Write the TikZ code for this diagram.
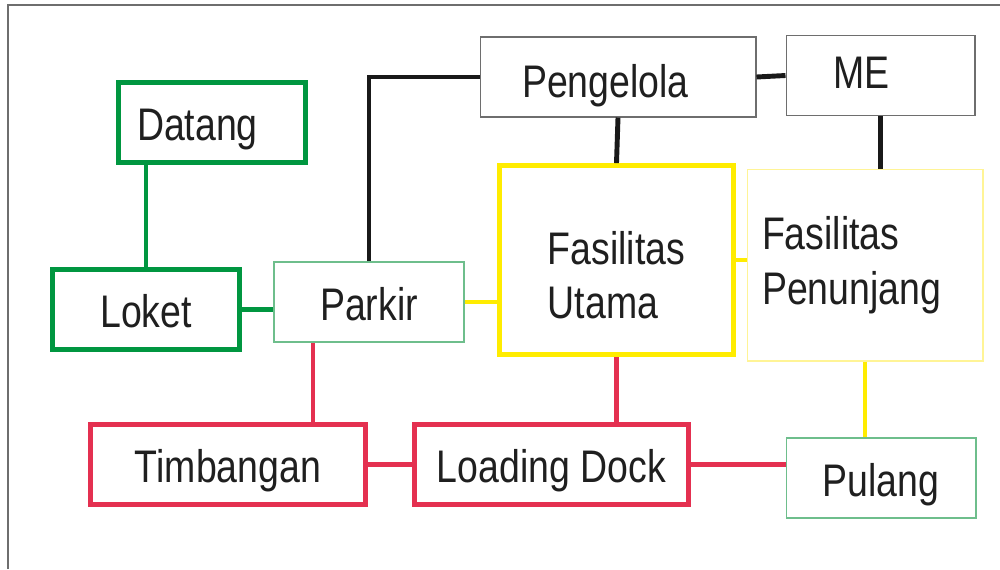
\documentclass[tikz,border=0pt]{standalone}
\usepackage{fontspec}
\setmainfont{Liberation Sans}[FakeStretch=0.82]
\usetikzlibrary{positioning}
\usepackage{xcolor}
\definecolor{flowgreen}{RGB}{0,150,64}
\definecolor{palegreen}{RGB}{110,190,140}
\definecolor{flowred}{RGB}{228,48,80}
\definecolor{flowyellow}{RGB}{255,236,0}
\definecolor{paleyellow}{RGB}{255,244,150}
\definecolor{framegray}{RGB}{110,110,110}

\begin{document}
\begin{tikzpicture}[
    x=0.02cm, y=-0.02cm,
    box/.style={draw, rectangle, inner sep=0pt, align=center, text=black!88,
                font=\fontsize{26pt}{31pt}\selectfont},
    one/.style={text height=0.92cm, text depth=0.2cm},
    gbox/.style={box, one, draw=flowgreen, line width=2.8pt, minimum width=3.74cm, minimum height=1.6cm},
    rbox/.style={box, one, draw=flowred, line width=2.8pt, minimum height=1.6cm},
    tbox/.style={box, draw=palegreen, line width=0.6pt, minimum width=3.8cm, minimum height=1.6cm},
    kbox/.style={box, draw=framegray, line width=0.6pt, minimum height=1.6cm},
    kline/.style={line width=2.8pt, black!90},
    gline/.style={line width=2.8pt, flowgreen},
    rline/.style={line width=2.8pt, flowred},
    yline/.style={line width=2.6pt, flowyellow}
  ]
  \useasboundingbox (0,0) rectangle (1000,569);
  \draw[framegray, line width=0.6pt] (8,569) |- (1000,5);

  \node[gbox, text width=3cm, inner xsep=0.37cm, align=left] (datang) at (212,122.5) {Datang};
  \node[gbox] (loket) at (146,309.5) {Loket};
  \node[tbox, one] (parkir) at (369,302) {Parkir};
  \node[rbox, minimum width=5.5cm] (timbangan) at (228,464.5) {Timbangan};
  \node[rbox, minimum width=5.48cm] (loading) at (551.5,464.5) {Loading Dock};
  \node[tbox, one] (pulang) at (881,478) {Pulang};
  \node[kbox, one, text width=3.84cm, inner xsep=0.84cm, align=left, text height=1cm] (pengelola) at (618,77) {Pengelola};
  \node[kbox, one, text width=1.9cm, inner xsep=0.94cm, align=left, text height=0.7cm] (me) at (880.5,75.5) {ME};
  \node[box, draw=flowyellow, line width=2.8pt, minimum width=4.68cm, minimum height=3.78cm,
        align=left] (futama) at (616.5,260) {\rule{0pt}{1.26cm}Fasilitas\\Utama};
  \node[box, draw=paleyellow, line width=0.6pt, minimum width=4.72cm, minimum height=3.84cm,
        text width=4.12cm, inner xsep=0.3cm, align=left] (fpenunjang) at (865,265) {Fasilitas\\Penunjang};

  \draw[gline] (loket.north) -- (loket.north |- datang.south);
  \draw[gline] (loket) -- (loket -| parkir.west);

  \draw[kline] (parkir.north) |- (pengelola.west);
  \draw[kline] (pengelola.east) -- (me.west);
  \draw[kline] (pengelola.south) -- (futama.north);
  \draw[kline] (me.south) -- (me.south |- fpenunjang.north);

  \draw[yline] (parkir.east) -- (parkir.east -| futama.west);
  \draw[yline] (futama.east) -- (futama.east -| fpenunjang.west);
  \draw[yline] (fpenunjang.south) -- (fpenunjang.south |- pulang.north);

  \draw[rline] ([xshift=-1.12cm]parkir.south) -- ([xshift=-1.12cm]parkir.south |- timbangan.north);
  \draw[rline] (timbangan.east) -- (loading.west);
  \draw[rline] (futama.south) -- (futama.south |- loading.north);
  \draw[rline] (loading.east) -- (loading.east -| pulang.west);
\end{tikzpicture}
\end{document}
